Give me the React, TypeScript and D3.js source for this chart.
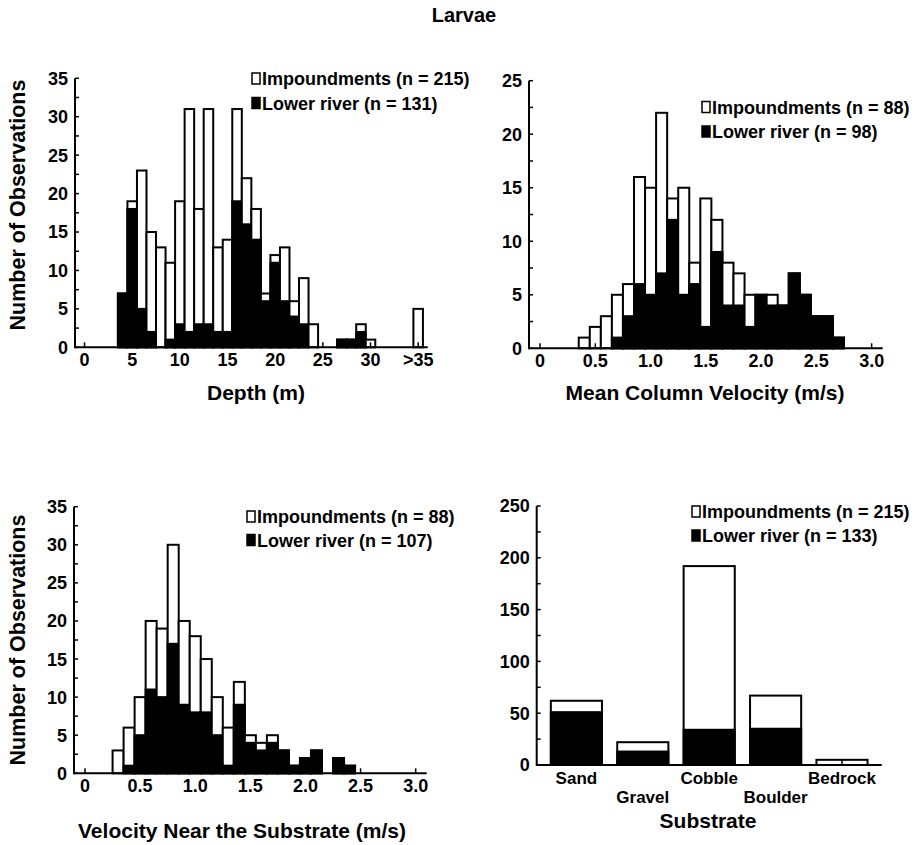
import React from "react";
import * as d3 from "d3";

// ---------- Data ----------
const depthBins = [4, 5, 6, 7, 8, 9, 10, 11, 12, 13, 14, 15, 16, 17, 18, 19, 20, 21, 22, 23, 24, 27, 28, 29, 30, 35];
const depthLower = [7, 18, 5, 2, 0, 1, 3, 2, 3, 3, 2, 2, 19, 16, 14, 6, 11, 6, 4, 3, 0, 1, 1, 2, 0, 0];
const depthImpound = [0, 1, 18, 13, 13, 10, 16, 29, 15, 28, 11, 12, 12, 6, 4, 1, 1, 7, 2, 6, 3, 0, 0, 1, 1, 5];
const depthTicks = [0, 5, 10, 15, 20, 25, 30, 35];
const depthTickLabels = ["0", "5", "10", "15", "20", "25", "30", ">35"];

const mcvBins = [0.4, 0.5, 0.6, 0.7, 0.8, 0.9, 1.0, 1.1, 1.2, 1.3, 1.4, 1.5, 1.6, 1.7, 1.8, 1.9, 2.0, 2.1, 2.2, 2.3, 2.4, 2.5, 2.6, 2.7];
const mcvLower = [0, 0, 0, 1, 3, 6, 5, 7, 12, 5, 6, 2, 9, 4, 4, 2, 5, 4, 4, 7, 5, 3, 3, 1];
const mcvImpound = [1, 2, 3, 4, 3, 10, 10, 15, 2, 10, 2, 12, 3, 4, 3, 3, 0, 1, 0, 0, 0, 0, 0, 0];

const nsvBins = [0.3, 0.4, 0.5, 0.6, 0.7, 0.8, 0.9, 1.0, 1.1, 1.2, 1.3, 1.4, 1.5, 1.6, 1.7, 1.8, 1.9, 2.0, 2.1, 2.2, 2.3, 2.4];
const nsvLower = [0, 1, 5, 11, 10, 17, 9, 8, 8, 5, 1, 9, 4, 3, 4, 3, 1, 2, 3, 0, 2, 1];
const nsvImpound = [3, 5, 5, 9, 9, 13, 11, 10, 7, 5, 5, 3, 1, 1, 1, 0, 0, 0, 0, 0, 0, 0];

const velTicks = [0, 0.5, 1.0, 1.5, 2.0, 2.5, 3.0];
const velTickLabels = ["0", "0.5", "1.0", "1.5", "2.0", "2.5", "3.0"];

const substrateCats = ["Sand", "Gravel", "Cobble", "Boulder", "Bedrock"];
const substrateLower = [51, 13, 34, 35, 0];
const substrateImpound = [11, 9, 158, 32, 5];

const legendNames = ["Impoundments", "Lower river"];
const legendN1 = [215, 131];
const legendN2 = [88, 98];
const legendN3 = [88, 107];
const legendN4 = [215, 133];

const FONT = "'Liberation Sans', Arial, Helvetica, sans-serif";

function YAxis({ y, x0, max, step, labelStep }) {
  const ticks = d3.range(0, max + 1e-9, step);
  return (
    <g>
      <line x1={x0} x2={x0} y1={y(0) + 1} y2={y(max)} stroke="#000" strokeWidth={2} />
      {ticks.map((t, i) => (
        <line key={"t" + i} x1={x0} x2={x0 + 4} y1={y(t)} y2={y(t)} stroke="#000" strokeWidth={1.5} />
      ))}
      {ticks
        .filter((t) => Math.abs(t / labelStep - Math.round(t / labelStep)) < 1e-6)
        .map((t, i) => (
          <text key={"l" + i} x={x0 - 7} y={y(t)} dy="0.36em" textAnchor="end" fontSize={18} fontWeight={700} fontFamily={FONT}>
            {String(t)}
          </text>
        ))}
    </g>
  );
}

function XAxis({ x, y0, r0, r1, ticks, labels }) {
  return (
    <g>
      <line x1={r0} x2={r1} y1={y0} y2={y0} stroke="#000" strokeWidth={2} />
      {ticks.map((t, i) => (
        <line key={"t" + i} x1={x(t)} x2={x(t)} y1={y0} y2={y0 - 5} stroke="#000" strokeWidth={1.5} />
      ))}
      {ticks.map((t, i) => (
        <text key={"l" + i} x={x(t)} y={y0 + 19} textAnchor="middle" fontSize={18} fontWeight={700} fontFamily={FONT}>
          {labels[i]}
        </text>
      ))}
    </g>
  );
}

function Bars({ bins, lower, impound, x, y, binW }) {
  return (
    <g>
      {bins.map((b, i) => {
        const tot = lower[i] + impound[i];
        if (tot <= 0) return null;
        const xa = x(b - binW / 2);
        const xb = x(b + binW / 2);
        return (
          <g key={i}>
            <rect x={xa} width={xb - xa} y={y(tot)} height={y(0) - y(tot)} fill="#fff" stroke="#000" strokeWidth={2} />
            {lower[i] > 0 && (
              <rect x={xa} width={xb - xa} y={y(lower[i])} height={y(0) - y(lower[i])} fill="#000" stroke="#000" strokeWidth={2} />
            )}
          </g>
        );
      })}
    </g>
  );
}

function Legend({ x, y1, y2, ns }) {
  return (
    <g fontFamily={FONT} fontWeight={700} fontSize={18}>
      <rect x={x} y={y1 - 12} width={8} height={11} fill="#fff" stroke="#000" strokeWidth={1.5} />
      <text x={x + 10} y={y1}>{`${legendNames[0]} (n = ${ns[0]})`}</text>
      <rect x={x} y={y2 - 12} width={8} height={11} fill="#000" stroke="#000" strokeWidth={1.5} />
      <text x={x + 10} y={y2}>{`${legendNames[1]} (n = ${ns[1]})`}</text>
    </g>
  );
}

export default function App() {
  const x1 = d3.scaleLinear().domain([-1, 36]).range([75, 427.7]);
  const y1 = d3.scaleLinear().domain([0, 35]).range([347.3, 78.3]);
  const x2 = d3.scaleLinear().domain([-0.1, 3.1]).range([529, 882.7]);
  const y2 = d3.scaleLinear().domain([0, 25]).range([348.3, 80.7]);
  const x3 = d3.scaleLinear().domain([-0.1, 3.1]).range([74, 426.7]);
  const y3 = d3.scaleLinear().domain([0, 35]).range([773.3, 506.7]);
  const x4 = d3.scaleBand().domain(substrateCats).range([536.7, 881.7]).paddingInner(0.23).paddingOuter(0.213);
  const y4 = d3.scaleLinear().domain([0, 250]).range([765, 506]);

  return (
    <svg width={917} height={845} style={{ position: "absolute", left: 0, top: 0, background: "#fff" }}>
      <rect x={0} y={0} width={917} height={845} fill="#fff" />
      <text x={464} y={22} textAnchor="middle" fontSize={20} fontWeight={700} fontFamily={FONT}>Larvae</text>

      {/* Panel 1 */}
      <Bars bins={depthBins} lower={depthLower} impound={depthImpound} x={x1} y={y1} binW={1} />
      <YAxis y={y1} x0={75} max={35} step={2.5} labelStep={5} />
      <XAxis x={x1} y0={347.3} r0={75} r1={427.7} ticks={depthTicks} labels={depthTickLabels} />
      <Legend x={252} y1={85} y2={109.5} ns={legendN1} />
      <text x={256} y={400} textAnchor="middle" fontSize={21} fontWeight={700} fontFamily={FONT}>Depth (m)</text>
      <text transform="translate(25,205) rotate(-90)" textAnchor="middle" fontSize={21.5} fontWeight={700} fontFamily={FONT}>Number of Observations</text>

      {/* Panel 2 */}
      <Bars bins={mcvBins} lower={mcvLower} impound={mcvImpound} x={x2} y={y2} binW={0.1} />
      <YAxis y={y2} x0={529} max={25} step={2.5} labelStep={5} />
      <XAxis x={x2} y0={348.3} r0={529} r1={882.7} ticks={velTicks} labels={velTickLabels} />
      <Legend x={702} y1={113.5} y2={138} ns={legendN2} />
      <text x={705} y={400} textAnchor="middle" fontSize={21} fontWeight={700} fontFamily={FONT}>Mean Column Velocity (m/s)</text>

      {/* Panel 3 */}
      <Bars bins={nsvBins} lower={nsvLower} impound={nsvImpound} x={x3} y={y3} binW={0.1} />
      <YAxis y={y3} x0={74} max={35} step={2.5} labelStep={5} />
      <XAxis x={x3} y0={773.3} r0={74} r1={426.7} ticks={velTicks} labels={velTickLabels} />
      <Legend x={247} y1={523} y2={546.5} ns={legendN3} />
      <text x={242} y={838} textAnchor="middle" fontSize={21} fontWeight={700} fontFamily={FONT}>Velocity Near the Substrate (m/s)</text>
      <text transform="translate(25,640) rotate(-90)" textAnchor="middle" fontSize={21.5} fontWeight={700} fontFamily={FONT}>Number of Observations</text>

      {/* Panel 4 */}
      <g>
        {substrateCats.map((c, i) => {
          const tot = substrateLower[i] + substrateImpound[i];
          const xa = x4(c);
          const w = x4.bandwidth();
          return (
            <g key={c}>
              <rect x={xa} width={w} y={y4(tot)} height={y4(0) - y4(tot)} fill="#fff" stroke="#000" strokeWidth={2} />
              {substrateLower[i] > 0 && (
                <rect x={xa} width={w} y={y4(substrateLower[i])} height={y4(0) - y4(substrateLower[i])} fill="#000" stroke="#000" strokeWidth={2} />
              )}
            </g>
          );
        })}
      </g>
      <YAxis y={y4} x0={536.7} max={250} step={25} labelStep={50} />
      <line x1={536.7} x2={881.7} y1={765} y2={765} stroke="#000" strokeWidth={2} />
      {substrateCats.map((c, i) => (
        <g key={"st" + c}>
          <line x1={x4(c) + x4.bandwidth() / 2} x2={x4(c) + x4.bandwidth() / 2} y1={765} y2={760} stroke="#000" strokeWidth={1.5} />
          <text x={x4(c) + x4.bandwidth() / 2} y={i % 2 === 0 ? 783.5 : 802.5} textAnchor="middle" fontSize={17} fontWeight={700} fontFamily={FONT}>{c}</text>
        </g>
      ))}
      <Legend x={692} y1={518} y2={542} ns={legendN4} />
      <text x={708} y={828} textAnchor="middle" fontSize={21} fontWeight={700} fontFamily={FONT}>Substrate</text>
    </svg>
  );
}
